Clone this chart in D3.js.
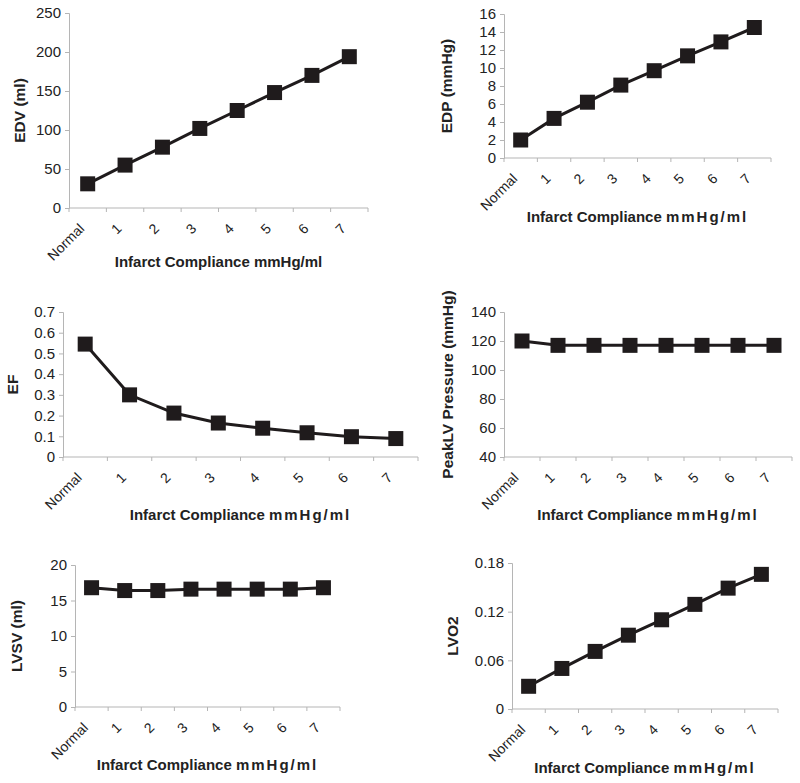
<!DOCTYPE html>
<html><head><meta charset="utf-8">
<script src="https://cdn.jsdelivr.net/npm/d3@7"></script>
<style>
body{margin:0;background:#fff;}
svg{display:block;}
</style></head>
<body>
<svg id="chart" width="800" height="783"></svg>
<script>
const categories = ["Normal","1","2","3","4","5","6","7"];
const xTitleA = "Infarct Compliance ";
const xTitleB = "mmHg/ml";

const edv = [31, 55, 78, 102, 125, 148, 170, 194];
const edp = [2.0, 4.4, 6.2, 8.1, 9.7, 11.35, 12.9, 14.5];
const ef = [0.545, 0.30, 0.212, 0.164, 0.139, 0.117, 0.098, 0.089];
const peakLV = [120, 117, 117, 117, 117, 117, 117, 117];
const lvsv = [16.8, 16.4, 16.4, 16.6, 16.6, 16.6, 16.6, 16.8];
const lvo2 = [0.028, 0.050, 0.071, 0.091, 0.110, 0.129, 0.149, 0.166];

const edvTicks = [0, 50, 100, 150, 200, 250];
const edpTicks = [0, 2, 4, 6, 8, 10, 12, 14, 16];
const efTicks = [0, 0.1, 0.2, 0.3, 0.4, 0.5, 0.6, 0.7];
const peakTicks = [40, 60, 80, 100, 120, 140];
const lvsvTicks = [0, 5, 10, 15, 20];
const lvo2Ticks = [0, 0.06, 0.12, 0.18];

const panels = [
  {values: edv, ticks: edvTicks, label: "EDV (ml)", box:[69,13,368,208], ylx:20, xty:262, ls:0},
  {values: edp, ticks: edpTicks, label: "EDP (mmHg)", box:[504,14,771,158], ylx:447, xty:217, ls:2},
  {values: ef, ticks: efTicks, label: "EF", box:[63,312,418,457], ylx:13, xty:515, ls:2},
  {values: peakLV, ticks: peakTicks, label: "PeakLV Pressure (mmHg)", box:[504,312,792,457], ylx:448, xty:515, ls:2},
  {values: lvsv, ticks: lvsvTicks, label: "LVSV (ml)", box:[75,565,340,707], ylx:17, xty:765, ls:2},
  {values: lvo2, ticks: lvo2Ticks, label: "LVO2", box:[512,563,778,709], ylx:453, xty:768, ls:2}
];

const svg = d3.select("#chart");
const font = "'Liberation Sans', Arial, sans-serif";
const ink = "#1f1b1c";

panels.forEach(p => {
  const [x0,y0,x1,y1] = p.box;
  const x = d3.scaleBand().domain(categories).range([x0,x1]);
  const y = d3.scaleLinear().domain([p.ticks[0], p.ticks[p.ticks.length-1]]).range([y1,y0]);
  const g = svg.append("g");

  // y axis
  const ya = g.append("g").attr("transform",`translate(${x0},0)`)
    .call(d3.axisLeft(y).tickValues(p.ticks).tickFormat(d=>d).tickSize(4).tickPadding(4));
  ya.selectAll("path,line").attr("stroke","#b5b5b5");
  ya.selectAll("text").attr("font-family",font).attr("font-size",15).attr("fill","#222");

  // x axis
  const xa = g.append("g").attr("transform",`translate(0,${y1})`)
    .call(d3.axisBottom(x).tickSize(0).tickFormat(""));
  xa.selectAll("path").attr("stroke","#b5b5b5").attr("d",`M${x0},0H${x1}`);
  const bounds = categories.map(c => x(c)).concat([x1]);
  xa.selectAll(".bt").data(bounds).enter().append("line")
    .attr("x1",d=>d).attr("x2",d=>d).attr("y1",0).attr("y2",4).attr("stroke","#b5b5b5");
  xa.selectAll(".xl").data(categories).enter().append("text")
    .attr("transform", d => `translate(${x(d)+x.bandwidth()/2-6},${18}) rotate(-45)`)
    .attr("text-anchor","end").attr("dy","0.35em")
    .attr("font-family",font).attr("font-size",14).attr("fill","#222")
    .text(d=>d);

  // axis titles
  const xt = g.append("text").attr("x",(x0+x1)/2).attr("y",p.xty).attr("text-anchor","middle")
    .attr("dy","0.35em")
    .attr("font-family",font).attr("font-weight","bold").attr("font-size",15).attr("fill","#222");
  xt.append("tspan").text(xTitleA);
  xt.append("tspan").attr("letter-spacing",p.ls).text(xTitleB);
  g.append("text").attr("transform",`translate(${p.ylx},${(y0+y1)/2}) rotate(-90)`)
    .attr("text-anchor","middle").attr("dy","0.35em")
    .attr("font-family",font).attr("font-weight","bold").attr("font-size",15.5).attr("fill","#222")
    .text(p.label);

  // line
  const data = categories.map((c,i)=>({c, v:p.values[i]}));
  const line = d3.line().x(d=>x(d.c)+x.bandwidth()/2).y(d=>y(d.v));
  g.append("path").datum(data).attr("d",line).attr("fill","none")
    .attr("stroke",ink).attr("stroke-width",3);
  g.selectAll(".m").data(data).enter().append("rect")
    .attr("x",d=>x(d.c)+x.bandwidth()/2-7.5).attr("y",d=>y(d.v)-7.5)
    .attr("width",15).attr("height",15).attr("fill",ink);
});
</script>
</body></html>
